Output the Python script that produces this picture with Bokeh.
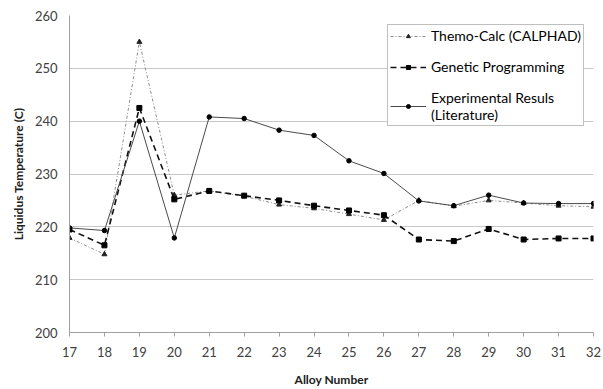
from bokeh.plotting import figure
from bokeh.models import Legend, LegendItem, Range1d, FixedTicker
from bokeh.embed import file_html
from bokeh.resources import INLINE

alloys = list(range(17, 33))
thermo_calc = [217.9, 214.8, 255.0, 226.0, 226.8, 225.8, 224.2, 223.5, 222.4, 221.3, 225.0, 223.9, 225.0, 224.5, 224.0, 223.8]
genetic_prog = [219.5, 216.5, 242.5, 225.2, 226.8, 225.9, 225.0, 224.0, 223.1, 222.2, 217.6, 217.3, 219.6, 217.6, 217.8, 217.8]
experimental = [219.8, 219.3, 240.0, 217.9, 240.8, 240.5, 238.3, 237.3, 232.5, 230.1, 224.9, 224.0, 226.0, 224.5, 224.4, 224.4]
y_ticks = [200, 210, 220, 230, 240, 250, 260]

FONT = "Lato"

p = figure(width=603, height=389, output_backend="svg", toolbar_location=None,
           x_range=Range1d(17, 32), y_range=Range1d(200, 260),
           min_border_left=69, min_border_right=10, min_border_top=15, min_border_bottom=56)
p.outline_line_color = None
p.background_fill_color = "white"

p.xaxis.ticker = FixedTicker(ticks=alloys)
p.yaxis.ticker = FixedTicker(ticks=y_ticks)
p.xgrid.grid_line_color = None
p.ygrid.grid_line_color = "#c8c8c8"
p.ygrid.grid_line_width = 1

for ax in (p.xaxis[0], p.yaxis[0]):
    ax.axis_line_color = "#a0a0a0"
    ax.major_tick_line_color = "#a0a0a0"
    ax.minor_tick_line_color = None
    ax.major_tick_in = 0
    ax.major_label_text_font = FONT
    ax.major_label_text_font_size = "13px"
    ax.major_label_text_color = "#404040"
    ax.axis_label_text_font = FONT
    ax.axis_label_text_font_size = "12px"
    ax.axis_label_text_font_style = "bold"
    ax.axis_label_text_color = "#202020"

p.xaxis.major_tick_out = 4
p.xaxis.major_label_standoff = 10
p.xaxis.axis_label = "Alloy Number"
p.xaxis.axis_label_standoff = 12
p.yaxis.major_tick_out = 0
p.yaxis.major_label_standoff = 12
p.yaxis.axis_label = "Liquidus Temperature (C)"
p.yaxis.axis_label_standoff = 6

r1l = p.line(alloys, thermo_calc, line_color="#8c8c8c", line_width=1, line_dash="3 2 1 2")
r1m = p.scatter(alloys, thermo_calc, marker="triangle", size=5, fill_color="#222222", line_color="#222222")
r2l = p.line(alloys, genetic_prog, line_color="#111111", line_width=1.6, line_dash="6 4")
r2m = p.scatter(alloys, genetic_prog, marker="square", size=5, fill_color="#000000", line_color="#000000")
r3l = p.line(alloys, experimental, line_color="#4a4a4a", line_width=1)
r3m = p.scatter(alloys, experimental, marker="circle", size=4.5, fill_color="#000000", line_color="#000000")

legend = Legend(items=[
    LegendItem(label="Themo-Calc (CALPHAD)", renderers=[r1l, r1m]),
    LegendItem(label="Genetic Programming", renderers=[r2l, r2m]),
    LegendItem(label="Experimental Resuls\n(Literature)", renderers=[r3l, r3m]),
], location="top_right")
legend.margin = 9
legend.padding = 2
legend.spacing = 14
legend.glyph_width = 36
legend.glyph_height = 10
legend.label_height = 16
legend.label_standoff = 5
legend.label_text_font = FONT
legend.label_text_font_size = "14px"
legend.label_text_line_height = 1.15
legend.label_text_color = "#000000"
legend.border_line_color = "#7f7f7f"
legend.border_line_width = 1
legend.background_fill_color = "white"
legend.background_fill_alpha = 1
p.add_layout(legend)

open("out.html", "w").write(file_html(p, INLINE))
